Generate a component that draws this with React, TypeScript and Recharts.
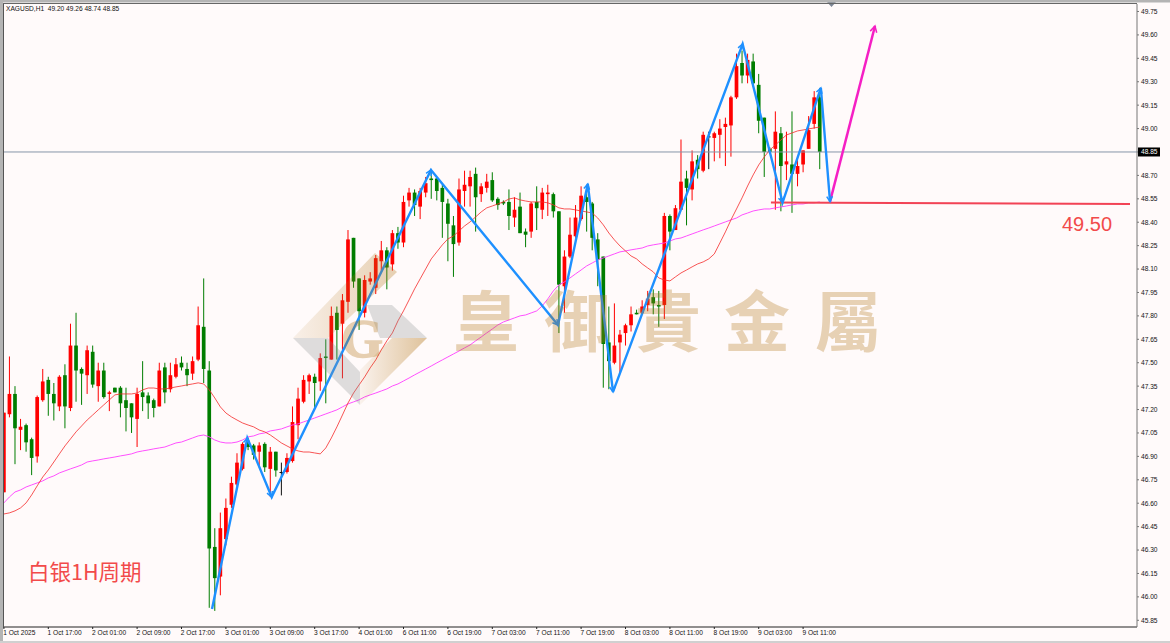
import React from "react";
import {
  ComposedChart,
  Bar,
  Line,
  XAxis,
  YAxis,
  ReferenceLine,
} from "recharts";

// XAGUSD H1, one entry per bar
const opens = [
  46.67,47.17,47.30,47.07,47.10,47.01,46.90,47.26,47.39,47.30,
  47.22,47.42,47.21,47.61,47.46,47.42,47.57,47.35,47.45,47.30,
  47.34,47.34,47.26,47.24,47.14,47.31,47.29,47.26,47.22,47.47,
  47.33,47.41,47.50,47.46,47.43,47.52,47.73,47.45,46.32,46.13,
  46.37,46.59,46.72,46.82,47.00,46.97,46.93,46.98,46.82,46.93,
  46.80,46.80,46.87,47.10,47.25,47.38,47.41,47.38,47.54,47.52,
  47.82,47.75,47.89,48.30,48.04,47.82,48.02,47.98,48.15,48.22,
  48.13,48.33,48.27,48.54,48.59,48.50,48.59,48.68,48.68,48.62,
  48.52,48.38,48.27,48.60,48.63,48.71,48.58,48.62,48.67,48.55,
  48.53,48.53,48.43,48.50,48.34,48.34,48.53,48.48,48.58,48.58,
  48.47,47.99,48.18,48.31,48.42,48.56,48.52,48.29,48.18,47.63,
  47.50,47.63,47.69,47.74,47.82,47.82,47.87,47.92,47.87,47.87,
  48.44,48.35,48.48,48.68,48.61,48.80,48.73,48.95,48.94,48.96,
  49.01,49.02,49.20,49.42,49.34,49.43,49.28,49.07,48.87,48.87,
  48.97,48.77,48.77,48.71,48.77,48.87,49.03,49.20,
];
const highs = [
  47.18,47.54,47.35,47.14,47.11,47.02,47.29,47.46,47.41,47.37,
  47.42,47.49,47.75,47.82,47.47,47.61,47.61,47.50,47.50,47.32,
  47.34,47.35,47.34,47.24,47.34,47.51,47.31,47.27,47.50,47.50,
  47.50,47.53,47.54,47.50,47.54,47.86,48.04,47.51,46.44,46.54,
  46.63,46.77,46.92,46.99,47.02,46.98,46.99,46.99,46.96,46.93,
  46.86,46.92,47.22,47.34,47.42,47.43,47.43,47.56,47.65,47.86,
  47.86,47.94,48.35,48.30,48.04,48.06,48.08,48.19,48.28,48.24,
  48.35,48.37,48.57,48.62,48.61,48.62,48.69,48.73,48.69,48.64,
  48.55,48.44,48.68,48.73,48.73,48.75,48.65,48.71,48.72,48.56,
  48.54,48.61,48.56,48.59,48.36,48.53,48.63,48.62,48.64,48.59,
  48.47,48.22,48.43,48.51,48.63,48.63,48.53,48.33,48.18,47.86,
  47.88,47.71,47.75,47.86,47.84,47.90,47.96,47.97,47.96,48.46,
  48.45,48.51,48.93,48.73,48.86,48.83,48.98,48.98,48.98,49.06,
  49.07,49.21,49.48,49.50,49.48,49.48,49.35,49.07,48.88,49.11,
  49.01,48.98,49.11,48.82,48.86,49.08,49.24,49.26,
];
const lows = [
  46.67,47.15,46.85,46.94,46.93,46.78,46.86,47.25,47.16,47.13,
  47.19,47.08,47.19,47.25,47.23,47.30,47.34,47.25,47.27,47.19,
  47.31,47.15,47.06,47.05,46.96,47.19,47.14,47.15,47.22,47.24,
  47.31,47.40,47.45,47.35,47.39,47.51,47.37,45.93,45.91,46.01,
  46.33,46.57,46.71,46.81,46.94,46.88,46.83,46.80,46.64,46.77,
  46.65,46.79,46.86,47.01,47.24,47.30,47.21,47.32,47.24,47.52,
  47.52,47.40,47.82,47.98,47.71,47.79,48.00,47.94,48.09,47.97,
  48.09,48.23,48.24,48.50,48.44,48.42,48.56,48.55,48.54,48.30,
  48.15,48.05,48.25,48.50,48.50,48.34,48.53,48.59,48.53,48.48,
  48.51,48.35,48.37,48.33,48.24,48.30,48.35,48.42,48.44,48.43,
  47.69,47.82,48.17,48.30,48.41,48.34,48.22,47.99,47.34,47.33,
  47.49,47.43,47.61,47.70,47.81,47.81,47.83,47.81,47.73,47.78,
  48.22,48.35,48.48,48.38,48.54,48.68,48.72,48.74,48.79,48.81,
  48.76,48.82,49.19,49.29,49.29,49.27,48.97,48.69,48.84,48.48,
  48.47,48.67,48.46,48.63,48.72,48.87,49.00,48.74,
];
const closes = [
  47.18,47.30,47.08,47.09,46.99,46.89,47.28,47.38,47.30,47.24,
  47.41,47.22,47.61,47.45,47.43,47.58,47.36,47.45,47.28,47.31,
  47.31,47.24,47.21,47.15,47.30,47.28,47.24,47.21,47.45,47.31,
  47.42,47.49,47.47,47.42,47.51,47.74,47.46,46.31,46.12,46.44,
  46.57,46.73,46.86,46.98,46.96,46.91,46.97,46.83,46.93,46.81,
  46.80,46.89,47.12,47.27,47.39,47.42,47.37,47.53,47.53,47.80,
  47.71,47.90,48.29,48.02,47.83,48.03,48.04,48.17,48.22,48.11,
  48.33,48.27,48.53,48.59,48.51,48.60,48.65,48.67,48.60,48.53,
  48.39,48.26,48.61,48.64,48.69,48.56,48.63,48.66,48.54,48.51,
  48.52,48.44,48.48,48.33,48.32,48.52,48.49,48.59,48.59,48.47,
  48.00,48.18,48.32,48.43,48.57,48.53,48.30,48.16,47.62,47.51,
  47.61,47.68,47.74,47.81,47.81,47.86,47.91,47.88,47.86,48.44,
  48.34,48.49,48.66,48.62,48.79,48.74,48.96,48.95,48.97,49.00,
  49.03,49.20,49.40,49.34,49.44,49.29,49.05,48.85,48.85,48.98,
  48.76,48.79,48.71,48.76,48.86,48.99,49.20,48.85,
];
const redAverage = [
  46.531,46.538,46.551,46.570,46.602,46.653,46.711,46.768,46.813,46.864,
  46.916,46.967,47.012,47.057,47.095,47.133,47.165,47.198,47.230,47.262,
  47.294,47.300,47.300,47.300,47.306,47.326,47.338,47.338,47.332,47.332,
  47.338,47.345,47.351,47.358,47.364,47.371,47.364,47.326,47.274,47.217,
  47.178,47.153,47.133,47.114,47.101,47.089,47.069,47.057,47.037,47.012,
  46.986,46.967,46.948,46.935,46.928,46.928,46.922,46.916,46.954,47.018,
  47.089,47.165,47.242,47.306,47.358,47.409,47.467,47.518,47.582,47.640,
  47.691,47.768,47.832,47.902,47.973,48.037,48.101,48.165,48.210,48.255,
  48.293,48.312,48.344,48.376,48.402,48.434,48.466,48.492,48.504,48.517,
  48.530,48.549,48.556,48.543,48.536,48.530,48.530,48.530,48.524,48.511,
  48.492,48.485,48.485,48.479,48.472,48.466,48.459,48.427,48.383,48.331,
  48.287,48.248,48.216,48.184,48.165,48.133,48.107,48.082,48.043,48.030,
  48.024,48.050,48.075,48.094,48.114,48.133,48.146,48.165,48.197,48.267,
  48.338,48.415,48.485,48.556,48.632,48.703,48.767,48.818,48.863,48.895,
  48.927,48.959,48.972,48.985,48.991,48.998,49.004,49.010,
];
const pinkAverage = [
  46.602,46.640,46.672,46.685,46.704,46.717,46.730,46.743,46.762,46.775,
  46.794,46.807,46.820,46.832,46.845,46.864,46.871,46.877,46.884,46.890,
  46.896,46.903,46.909,46.916,46.928,46.935,46.941,46.948,46.954,46.960,
  46.973,46.986,46.992,47.005,47.018,47.031,47.037,47.025,47.005,46.992,
  46.986,46.986,46.992,47.005,47.025,47.031,47.044,47.050,47.063,47.069,
  47.076,47.089,47.101,47.108,47.121,47.133,47.146,47.159,47.172,47.185,
  47.198,47.217,47.236,47.249,47.262,47.281,47.294,47.306,47.319,47.332,
  47.351,47.364,47.383,47.402,47.422,47.441,47.460,47.479,47.499,47.518,
  47.537,47.556,47.575,47.595,47.614,47.640,47.665,47.691,47.716,47.742,
  47.761,47.774,47.787,47.800,47.806,47.819,47.832,47.864,47.909,47.960,
  47.998,48.018,48.043,48.069,48.094,48.120,48.139,48.158,48.171,48.184,
  48.197,48.210,48.216,48.223,48.229,48.235,48.248,48.255,48.261,48.267,
  48.280,48.293,48.299,48.312,48.325,48.338,48.351,48.363,48.376,48.389,
  48.402,48.415,48.427,48.447,48.459,48.472,48.479,48.485,48.485,48.492,
  48.498,48.504,48.511,48.517,48.517,48.524,48.524,48.530,
];

const zigzagBars = [37.5, 43.86, 48.25, 76.95, 99.84, 105.2, 109.75, 133.1, 140.3, 147.2, 148.85];
const zigzagPrices = [45.923, 47.018, 46.64, 48.735, 47.742, 48.645, 47.313, 49.542, 48.526, 49.26, 48.532];
const targetBars = [148.85, 156.95];
const targetPrices = [48.532, 49.657];
const supportBars = [138.2, 202.9];
const supportPrices = [48.527, 48.517];

const timeTicks = [0, 8, 16, 24, 32, 40, 48, 56, 64, 72, 80, 88, 96, 104, 112, 120, 128, 136, 144];
const timeLabels = [
  "1 Oct 2025", "1 Oct 17:00", "2 Oct 01:00", "2 Oct 09:00", "2 Oct 17:00",
  "3 Oct 01:00", "3 Oct 09:00", "3 Oct 17:00", "4 Oct 01:00", "6 Oct 11:00",
  "6 Oct 19:00", "7 Oct 03:00", "7 Oct 11:00", "7 Oct 19:00", "8 Oct 03:00",
  "8 Oct 11:00", "8 Oct 19:00", "9 Oct 03:00", "9 Oct 11:00",
];
const priceTicks = [
  45.85, 46.0, 46.15, 46.3, 46.45, 46.6, 46.75, 46.9, 47.05, 47.2, 47.35, 47.5, 47.65, 47.8,
  47.95, 48.1, 48.25, 48.4, 48.55, 48.7, 48.85, 49.0, 49.15, 49.3, 49.45, 49.6, 49.75,
];
const lastPrice = 48.85;
const brandChars = ["皇", "御", "貴", "金", "屬"];
const brandCentres = [486, 577, 668, 757, 848];

const rows = opens.map((open, i) => ({
  bar: i,
  open,
  high: highs[i],
  low: lows[i],
  close: closes[i],
  red: redAverage[i],
  pink: pinkAverage[i],
}));
const zigzag = zigzagBars.map((bar, i) => ({ bar, price: zigzagPrices[i] }));
const target = targetBars.map((bar, i) => ({ bar, price: targetPrices[i] }));
const support = supportBars.map((bar, i) => ({ bar, price: supportPrices[i] }));

const UP = "#ff0000";
const DOWN = "#007d00";
const BODY_WIDTH = 3.7;
const AXIS_FONT = "'Liberation Sans', Arial, sans-serif";

// one candle, the bar itself spans low..high so the body is scaled from that
const Candle = (props: any) => {
  const { x, y, width, height, payload } = props;
  const { open, high, low, close } = payload;
  const perUnit = height / (high - low);
  const top = y + (high - Math.max(open, close)) * perUnit;
  const bottom = y + (high - Math.min(open, close)) * perUnit;
  const colour = close > open ? UP : close < open ? DOWN : "#111111";
  const mid = x + width / 2;
  return (
    <g>
      <line x1={mid} x2={mid} y1={y} y2={y + height} stroke={colour} strokeWidth={1} />
      <rect
        x={mid - BODY_WIDTH / 2}
        y={top}
        width={BODY_WIDTH}
        height={Math.max(bottom - top, 1)}
        fill={colour}
      />
    </g>
  );
};

const Head = (props: any) => {
  const { cx, cy, index, points, stroke, size } = props;
  if (!index || !points) return <g key={index} />;
  const prev = points[index - 1];
  const angle = Math.atan2(cy - prev.y, cx - prev.x);
  const wing = (a: number) => [cx - size * Math.cos(angle + a), cy - size * Math.sin(angle + a)];
  const [ax, ay] = wing(0.5);
  const [bx, by] = wing(-0.5);
  return (
    <path
      key={index}
      d={`M${ax} ${ay}L${cx} ${cy}L${bx} ${by}`}
      fill="none"
      stroke={stroke}
      strokeWidth={1.5}
    />
  );
};

const TimeTick = (props: any) => {
  const { x, y, payload } = props;
  return (
    <text x={x - 0.7} y={y + 6} fontSize={6.6} fontFamily={AXIS_FONT} fill="#111111" textAnchor="start">
      {timeLabels[timeTicks.indexOf(payload.value)]}
    </text>
  );
};

const PriceTick = (props: any) => {
  const { x, y, payload } = props;
  const label = payload.value.toFixed(2);
  if (payload.value === lastPrice) {
    return (
      <g>
        <rect x={x - 3} y={y - 4.5} width={22} height={9} fill="#000000" />
        <text x={x} y={y + 2.4} fontSize={6.6} fontFamily={AXIS_FONT} fill="#ffffff">
          {label}
        </text>
      </g>
    );
  }
  return (
    <text x={x} y={y + 2.4} fontSize={6.6} fontFamily={AXIS_FONT} fill="#111111">
      {label}
    </text>
  );
};

const Watermark = () => (
  <svg
    width={1170}
    height={643}
    style={{ position: "absolute", left: 0, top: 0, pointerEvents: "none" }}
  >
    <defs>
      <linearGradient id="bandA" x1="0" y1="0" x2="1" y2="0">
        <stop offset="0" stopColor="#b27517" stopOpacity={0.08} />
        <stop offset="1" stopColor="#b27517" stopOpacity={0.32} />
      </linearGradient>
      <linearGradient id="bandB" x1="0" y1="0" x2="1" y2="0">
        <stop offset="0" stopColor="#b27517" stopOpacity={0.06} />
        <stop offset="1" stopColor="#b27517" stopOpacity={0.42} />
      </linearGradient>
    </defs>
    <polygon points="293,338 375,253 397,272 328,338" fill="url(#bandA)" />
    <polygon points="367,305 392,305 427,338 380,338" fill="#8a9090" opacity={0.28} />
    <polygon points="293,338 328,338 360,372 360,405" fill="#8a9090" opacity={0.28} />
    <polygon points="427,338 392,338 360,370 360,405" fill="url(#bandB)" />
    <text
      x={362}
      y={357}
      fontSize={54}
      fontWeight="bold"
      fontFamily="'Liberation Serif', serif"
      textAnchor="middle"
      fill="#b27517"
      stroke="#b27517"
      strokeWidth={1.5}
      opacity={0.32}
    >
      G
    </text>
    {brandChars.map((ch, i) => (
      <text
        key={ch}
        x={brandCentres[i]}
        y={346}
        fontSize={66}
        fontWeight={700}
        fontFamily="'Noto Sans CJK TC', sans-serif"
        textAnchor="middle"
        fill="#b27517"
        opacity={0.3}
      >
        {ch}
      </text>
    ))}
  </svg>
);

const App = () => {
  return (
    <div
      style={{
        position: "absolute",
        left: 0,
        top: 0,
        width: 1170,
        height: 643,
        background: "#fffafa",
        overflow: "hidden",
      }}
    >
      <ComposedChart
        width={1170}
        height={643}
        data={rows}
        margin={{ top: 4, right: 0, bottom: 0, left: 3 }}
      >
        <XAxis
          dataKey="bar"
          type="number"
          scale="linear"
          domain={[-0.162, 204.16]}
          allowDataOverflow
          ticks={timeTicks}
          interval={0}
          height={16}
          tick={<TimeTick />}
          tickSize={2}
          tickMargin={0}
          stroke="#222222"
        />
        <YAxis
          orientation="right"
          type="number"
          scale="linear"
          domain={[45.807, 49.798]}
          allowDataOverflow
          ticks={priceTicks}
          interval={0}
          width={33}
          tick={<PriceTick />}
          tickSize={2}
          tickMargin={2}
          stroke="#777777"
        />
        <ReferenceLine y={lastPrice} stroke="#8695a8" strokeWidth={1} />
        <Bar
          dataKey={(r: any) => [r.low, r.high]}
          barSize={4}
          shape={<Candle />}
          isAnimationActive={false}
        />
        <Line
          dataKey="pink"
          stroke="#ff3cff"
          strokeWidth={0.9}
          dot={false}
          isAnimationActive={false}
        />
        <Line
          dataKey="red"
          stroke="#f52a2a"
          strokeWidth={0.8}
          dot={false}
          isAnimationActive={false}
        />
        <Line
          data={support}
          dataKey="price"
          stroke="#f24355"
          strokeWidth={2}
          dot={false}
          isAnimationActive={false}
        />
        <Line
          data={target}
          dataKey="price"
          stroke="#f51fc4"
          strokeWidth={2.5}
          dot={(p: any) => <Head {...p} stroke="#f51fc4" size={7} />}
          isAnimationActive={false}
        />
        <Line
          data={zigzag}
          dataKey="price"
          stroke="#1e90ff"
          strokeWidth={2.4}
          dot={(p: any) => <Head {...p} stroke="#1e90ff" size={6} />}
          isAnimationActive={false}
        />
      </ComposedChart>

      <Watermark />

      <svg
        width={1170}
        height={643}
        style={{ position: "absolute", left: 0, top: 0, pointerEvents: "none" }}
      >
        <text
          x={6}
          y={11}
          fontSize={6.6}
          fontFamily={AXIS_FONT}
          fill="#111111"
          style={{ whiteSpace: "pre" }}
        >
          {"XAGUSD,H1  49.20 49.26 48.74 48.85"}
        </text>
        <text x={1062} y={231} fontSize={20} fontFamily={AXIS_FONT} fill="#f24a4a">
          49.50
        </text>
        <text x={28} y={580} fontSize={21.5} fontFamily="'Noto Sans CJK SC', sans-serif" fill="#f24a4a">
          白银1H周期
        </text>
        <polygon points="827,2 836,2 831.5,7" fill="#7b8594" />
        <rect x={0} y={0} width={3} height={643} fill="#b4b4b4" />
        <rect x={3} y={3} width={1} height={624} fill="#555555" />
        <rect x={0} y={0} width={1170} height={2.5} fill="#b4b4b4" />
        <rect x={3} y={3} width={1134} height={1} fill="#666666" />
        <rect x={0} y={641} width={1170} height={2} fill="#d0d0d0" />
      </svg>
    </div>
  );
};

export default App;
